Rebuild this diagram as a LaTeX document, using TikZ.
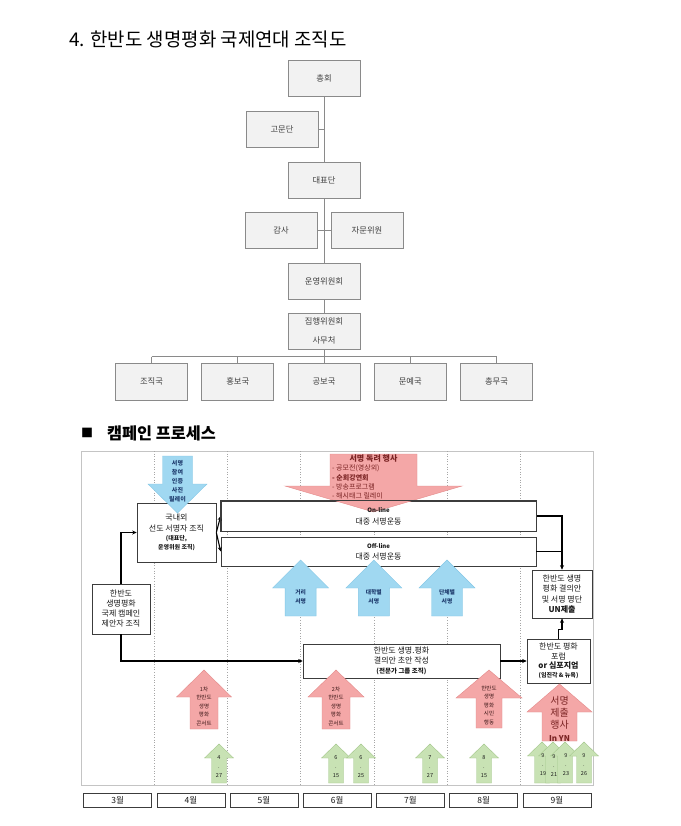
\documentclass[tikz,border=0pt]{standalone}
\usepackage{fontspec}
\setmainfont{Noto Sans CJK KR}
\usetikzlibrary{arrows.meta}
\definecolor{orgline}{HTML}{8A8A8A}
\definecolor{orgfill}{HTML}{F2F2F2}
\definecolor{orgtext}{HTML}{404040}
\definecolor{boxline}{HTML}{3C3C3C}
\definecolor{boxtext}{HTML}{1A1A1A}
\definecolor{sepgray}{HTML}{A6A6A6}
\definecolor{framegray}{HTML}{C4C4C4}
\definecolor{arrred}{HTML}{F4A7A7}
\definecolor{arrredd}{HTML}{E48A8A}
\definecolor{arrblue}{HTML}{A0D8F1}
\definecolor{arrblued}{HTML}{84C7E6}
\definecolor{arrgreen}{HTML}{C8E2B4}
\definecolor{arrgreend}{HTML}{A3C78A}
\definecolor{navy}{HTML}{1F3C6E}
\definecolor{maroon}{HTML}{7A2323}
\definecolor{concert}{HTML}{3A1515}
\newcommand{\myfs}[2]{\fontsize{#1}{#2}\selectfont}
% block arrow: style, cx, tip y, head-base y, tail y, head half width, shaft half width
\newcommand{\blockarr}[7]{\path[#1] ({#2-#7},#5) -- ({#2-#7},#4) -- ({#2-#6},#4) -- (#2,#3) -- ({#2+#6},#4) -- ({#2+#7},#4) -- ({#2+#7},#5) -- cycle;}
\begin{document}
\begin{tikzpicture}[x=1pt,y=-1pt,
 orgbox/.style={draw=orgline, fill=orgfill, minimum width=72pt, minimum height=36pt, inner sep=0pt, text=orgtext, font=\myfs{8.3}{9}, align=center, line width=0.6pt},
 orgconn/.style={draw=orgline, line width=0.6pt},
 cbox/.style={draw=boxline, fill=white, inner sep=0pt, line width=0.6pt, text=boxtext, align=center},
 flowline/.style={draw=black, line width=1.4pt},
 flow/.style={flowline, -{Stealth[length=4.5pt,width=4pt]}},
 monthbox/.style={draw=boxline, fill=white, minimum width=68pt, minimum height=14pt, inner sep=0pt, font=\myfs{8.5}{10}, text=boxtext, line width=0.6pt},
 sepline/.style={draw=sepgray, dotted, line width=0.6pt},
 redarr/.style={fill=arrred, draw=arrredd, line width=0.4pt},
 bluearr/.style={fill=arrblue, draw=arrblued, line width=0.4pt},
 greenarr/.style={fill=arrgreen, draw=arrgreend, line width=0.4pt},
 atext/.style={inner sep=0pt, align=center},
]
\useasboundingbox (0,0) rectangle (680,826);
\fill[white] (0,0) rectangle (680,826);

% ---------- title ----------
\node[anchor=west, inner sep=0pt, font=\myfs{18.9}{22}] (title) at (69,39) {4. 한반도 생명평화 국제연대 조직도};

% ---------- org chart ----------
\node[orgbox] (zonghoe) at (324,78) {총회};
\node[orgbox] (gomun) at (282,129) {고문단};
\node[orgbox] (daepyo) at (324,180) {대표단};
\node[orgbox] (gamsa) at (281,230) {감사};
\node[orgbox] (jamun) at (367,230) {자문위원};
\node[orgbox] (unyoung) at (324,281) {운영위원회};
\node[orgbox, font=\myfs{8.3}{19}] (jiphaeng) at (324,331) {집행위원회\\사무처};
\node[orgbox, minimum height=37pt] (jojik) at (151.5,381.5) {조직국};
\node[orgbox, minimum height=37pt] (hongbo) at (237.7,381.5) {홍보국};
\node[orgbox, minimum height=37pt] (gongbo) at (324,381.5) {공보국};
\node[orgbox, minimum height=37pt] (munye) at (410.3,381.5) {문예국};
\node[orgbox, minimum height=37pt] (chongmu) at (496.5,381.5) {총무국};
\coordinate (bus) at (324,356.7);

\draw[orgconn] (zonghoe.south) -- (daepyo.north);
\draw[orgconn] (gomun.east) -- (gomun.east -| zonghoe.south);
\draw[orgconn] (daepyo.south) -- (unyoung.north);
\draw[orgconn] (gamsa.east) -- (jamun.west);
\draw[orgconn] (unyoung.south) -- (jiphaeng.north);
\draw[orgconn] (jiphaeng.south) -- (gongbo.north);
\draw[orgconn] (bus -| jojik.north) -- (bus -| chongmu.north);
\foreach \b in {jojik,hongbo,munye,chongmu} \draw[orgconn] (bus -| \b.north) -- (\b.north);

% ---------- campaign heading ----------
\node[inner sep=0pt, font=\myfs{12}{14}] (sq) at (87,433) {■};
\node[anchor=west, inner sep=0pt, font=\bfseries\myfs{16.3}{18}] (camp) at (107,433) {캠페인 프로세스};

% ---------- frame and month separators ----------
\draw[draw=framegray, line width=0.6pt] (81,451) rectangle (593,785);
\foreach \k in {1,...,6} \draw[sepline] ({81+73.2*\k},451) -- ({81+73.2*\k},785);
\foreach \k in {3,...,9} \node[monthbox] (m\k) at ({117.6+73.2*(\k-3)},800) {{\k}월};

% ---------- boxes ----------
\node[cbox, minimum width=79pt, minimum height=59pt, font=\myfs{8}{11}] (gukne) at (176.5,532.5)
 {국내외\\선도 서명자 조직\\[-2pt]{\bfseries\myfs{6}{9}(대표단,}\\[-2pt]{\bfseries\myfs{6}{9}운영위원 조직)}};
\node[cbox, minimum width=58pt, minimum height=50pt, font=\myfs{8}{10}] (jean) at (121,609)
 {한반도\\생명평화\\국제 캠페인\\제안자 조직};
\node[cbox, minimum width=315pt, minimum height=30pt] (online) at (378.5,516) {};
\node[cbox, minimum width=315pt, minimum height=29pt, font=\myfs{8}{11}] (offline) at (378.5,551.5)
 {{\bfseries\myfs{6}{8}Off-line}\\대중 서명운동};
\node[cbox, minimum width=197pt, minimum height=34pt, font=\myfs{8}{10}] (gyeol) at (401.5,661)
 {한반도 생명.평화\\결의안 초안 작성\\{\bfseries\myfs{6.5}{8}(전문가 그룹 조직)}};
\node[cbox, minimum width=63pt, minimum height=44pt, font=\myfs{8}{9.3}] (forum) at (558.5,661)
 {한반도 평화\\포럼\\{\bfseries or 심포지엄}\\{\bfseries\myfs{6}{8}(임진각 \& 뉴욕)}};
\node[cbox, minimum width=60pt, minimum height=48pt, font=\myfs{8}{10.3}] (un) at (562,594)
 {한반도 생명\\평화 결의안\\및 서명 명단\\{\bfseries UN제출}};

% ---------- connectors ----------
\draw[flow] (jean.north) |- (gukne.west);
\draw[flow] (jean.south) |- (gyeol.west);
\draw[flow, line width=1.1pt] (gukne.east) -- (online.west);
\draw[flow, line width=1.1pt] (gukne.east) -- (offline.west);
\draw[flow] (online.east) -| (un.north);
\draw[flowline] (offline.east) -- (offline.east -| un.north);
\draw[flow] (gyeol.east) -- (forum.west);
\draw[flow] (forum.north) -- ++(0,-9) -| (un.south);

% ---------- block arrows ----------
\blockarr{bluearr}{177.5}{513}{484}{456}{29.5}{15}
\blockarr{redarr}{373.5}{512}{486}{454}{88.5}{43.5}
\blockarr{bluearr}{300.6}{560}{588}{616}{28}{15.5}
\blockarr{bluearr}{373.8}{560}{588}{616}{28}{15.5}
\blockarr{bluearr}{447}{560}{588}{616}{28}{15.5}
\blockarr{redarr}{204}{670}{697}{729}{27.5}{14}
\blockarr{redarr}{336}{670}{697}{729}{28}{14}
\blockarr{redarr}{489}{670}{698}{728}{33}{13}
\blockarr{redarr}{559.5}{684}{712}{741}{32.5}{17.5}
\foreach \cx in {219,336,361,430,484} {\blockarr{greenarr}{\cx}{744}{758}{783}{14.5}{7.5}}
\foreach \cx in {542,553,565,584} {\blockarr{greenarr}{\cx}{742}{756}{783}{14.5}{7.5}}

% online box border and text on top of the red arrow tip
\draw[draw=boxline, line width=0.6pt] (online.north west) rectangle (online.south east);
\node[atext, font=\myfs{8}{12}, text=boxtext] (onlinetxt) at (378.5,516.5) {{\bfseries\myfs{6}{8}On-line}\\대중 서명운동};

% ---------- arrow texts ----------
\node[atext, font=\bfseries\myfs{6}{9}, text=navy] (relay) at (177.5,481) {서명\\참여\\인증\\사진\\릴레이};
\node[atext, font=\bfseries\myfs{8}{10}, text=maroon] (dokryeo) at (373.5,458.5) {서명 독려 행사};
\node[inner sep=0pt, align=left, anchor=west, font=\myfs{7}{9.2}, text=maroon] (dokryeolist) at (332,482)
 {- 공모전(영상외)\\{\bfseries - 순회강연회}\\- 방송프로그램\\- 해시태그 릴레이};
\node[atext, font=\bfseries\myfs{5.8}{9}, text=navy] (geori) at (300.6,596.5) {거리\\서명};
\node[atext, font=\bfseries\myfs{5.8}{9}, text=navy] (daehak) at (373.8,596.5) {대학별\\서명};
\node[atext, font=\bfseries\myfs{5.8}{9}, text=navy] (danche) at (447,596.5) {단체별\\서명};
\node[atext, font=\myfs{5.5}{8.5}, text=concert] (con1) at (204,706) {1차\\한반도\\생명\\평화\\콘서트};
\node[atext, font=\myfs{5.5}{8.5}, text=concert] (con2) at (336,706) {2차\\한반도\\생명\\평화\\콘서트};
\node[atext, font=\myfs{5.5}{8.5}, text=concert] (simin) at (489,705) {한반도\\생명\\평화\\시민\\행동};
\node[atext, font=\myfs{10}{12.3}, text=maroon] (jechul) at (559.5,718.5) {서명\\제출\\행사\\{\bfseries\myfs{8}{10}In YN}};

\node[atext, font=\myfs{5.5}{9}, text=boxtext] (d427) at (219,767) {4\\.\\27};
\node[atext, font=\myfs{5.5}{9}, text=boxtext] (d615) at (336,767) {6\\.\\15};
\node[atext, font=\myfs{5.5}{9}, text=boxtext] (d625) at (361,767) {6\\.\\25};
\node[atext, font=\myfs{5.5}{9}, text=boxtext] (d727) at (430,767) {7\\.\\27};
\node[atext, font=\myfs{5.5}{9}, text=boxtext] (d815) at (484,767) {8\\.\\15};
\node[atext, font=\myfs{5.5}{9}, text=boxtext] (d919) at (543,765) {9\\.\\19};
\node[atext, font=\myfs{5.5}{9}, text=boxtext] (d921) at (554,765) {9\\.\\21};
\node[atext, font=\myfs{5.5}{9}, text=boxtext] (d923) at (566,765) {9\\.\\23};
\node[atext, font=\myfs{5.5}{9}, text=boxtext] (d926) at (584,765) {9\\.\\26};
\end{tikzpicture}
\end{document}
